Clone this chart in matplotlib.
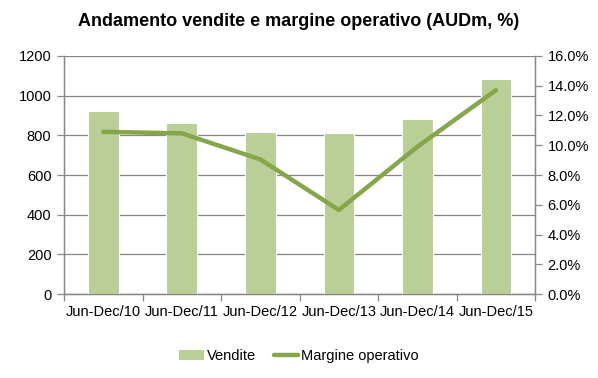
import matplotlib
matplotlib.use("Agg")
import matplotlib.pyplot as plt
from matplotlib.ticker import FuncFormatter, MultipleLocator
from matplotlib.lines import Line2D
from matplotlib.patches import Patch

categories = ["Jun-Dec/10", "Jun-Dec/11", "Jun-Dec/12", "Jun-Dec/13", "Jun-Dec/14", "Jun-Dec/15"]
vendite = [925, 860, 815, 810, 880, 1083]
margine = [10.9, 10.8, 9.05, 5.65, 9.9, 13.7]

bar_color = "#B9CF96"
line_color = "#86A649"
grid_color = "#868686"

plt.rcParams['font.family'] = ['Liberation Sans', 'DejaVu Sans']

fig = plt.figure(figsize=(5.98, 3.78), dpi=100)
ax = fig.add_axes([0.107, 0.222, 0.788, 0.630])
ax2 = ax.twinx()

x = list(range(len(categories)))
ax.bar(x, vendite, width=0.39, color=bar_color, edgecolor="white", linewidth=0.8, zorder=3)
ax.set_ylim(0, 1200)
ax.set_xlim(-0.5, len(categories) - 0.5)
ax.yaxis.set_major_locator(MultipleLocator(200))
ax.grid(axis="y", color=grid_color, linewidth=0.9, zorder=0)
ax.set_axisbelow(True)

ax2.plot(x, margine, color=line_color, linewidth=3.2, solid_capstyle="round", zorder=5)
ax2.set_ylim(0, 16)
ax2.yaxis.set_major_locator(MultipleLocator(2))
ax2.yaxis.set_major_formatter(FuncFormatter(lambda v, p: f"{v:.1f}%"))

ax.set_xticks(x)
ax.set_xticklabels(categories)
ax.set_xticks([i + 0.5 for i in range(-1, len(categories))], minor=True)
ax.tick_params(axis="x", which="major", length=0, pad=8, labelsize=10.5, colors="black")
ax.tick_params(axis="x", which="minor", length=5, color=grid_color, width=0.9)
ax.tick_params(axis="y", length=5, color=grid_color, width=0.9, labelsize=10.5, pad=4)
ax2.tick_params(axis="y", length=5, color=grid_color, width=0.9, labelsize=10.5, pad=4)

for a in (ax, ax2):
    a.spines["top"].set_visible(False)
    for side in ("left", "right", "bottom"):
        a.spines[side].set_color(grid_color)
        a.spines[side].set_linewidth(0.9)

fig.text(0.5, 0.942, "Andamento vendite e margine operativo (AUDm, %)",
         ha="center", va="center", fontsize=13, fontweight="bold",
         family=['Liberation Sans Narrow', 'Liberation Sans', 'DejaVu Sans'])

handles = [Patch(facecolor=bar_color, edgecolor="none"),
           Line2D([0], [0], color=line_color, linewidth=3.2, solid_capstyle="round")]
fig.legend(handles, ["Vendite", "Margine operativo"], loc="center",
           bbox_to_anchor=(0.5, 0.058), ncol=2, frameon=False, fontsize=10.5,
           handlelength=1.7, handletextpad=0.2, columnspacing=1.2)

fig.savefig("out.png", dpi=100)
